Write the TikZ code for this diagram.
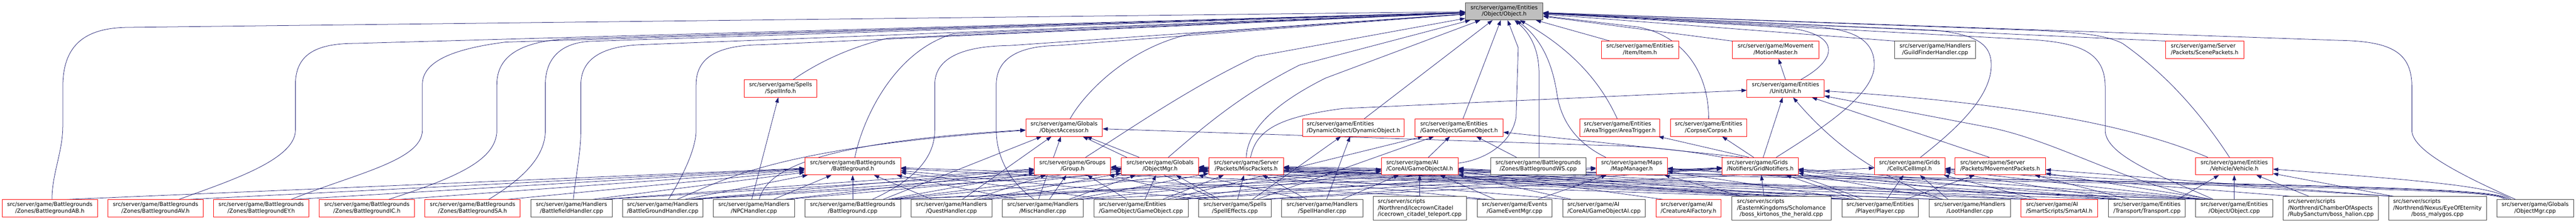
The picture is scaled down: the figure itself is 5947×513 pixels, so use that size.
\documentclass[tikz,border=0pt]{standalone}
\usepackage{fontspec}
\newfontfamily\dvs{DejaVu Sans}
\usetikzlibrary{arrows.meta,calc}
\pgfdeclarelayer{bg}
\pgfsetlayers{bg,main}
\definecolor{edgec}{RGB}{25,25,112}
\definecolor{hred}{RGB}{255,0,0}
\definecolor{cgray}{RGB}{64,64,64}
\definecolor{rootfill}{RGB}{191,191,191}
\newcommand\two[2]{\begin{tabular}{@{}c@{}}\multicolumn{1}{@{}l@{}}{#1}\\#2\end{tabular}}
\newcommand\three[3]{\begin{tabular}{@{}c@{}}\multicolumn{1}{@{}l@{}}{#1}\\\multicolumn{1}{@{}l@{}}{#2}\\#3\end{tabular}}
\newcommand\ed[3]{\draw[dep] ([xshift=#2]#1.north) -- (#3);}
\newcommand\edc[5]{\draw[dep] ([xshift=#2]#1.north) .. controls #3 and #4 .. (#5);}
\tikzset{
 nbox/.style={rectangle, inner sep=0pt, minimum height=40pt, fill=white, line width=1pt, font=\dvs\fontsize{12.7}{15}\selectfont},
 hdrbox/.style={nbox, draw=hred},
 cppbox/.style={nbox, draw=cgray},
 rootbox/.style={nbox, draw=cgray, fill=rootfill},
 tall/.style={minimum height=54pt},
 dep/.style={draw=edgec, line width=0.9pt, -{Triangle[length=12pt,width=8.5pt]}},
}
\begin{document}
\begin{tikzpicture}[x=1pt,y=-1pt]
\useasboundingbox (0,0) rectangle (5947,513);
% ---------- row 0
\node[rootbox, minimum width=179pt] (objh) at (3472.5,26) {\two{src/server/game/Entities}{/Object/Object.h}};
% ---------- row 1
\node[hdrbox, minimum width=178pt] (itemh) at (3786,115) {\two{src/server/game/Entities}{/Item/Item.h}};
\node[hdrbox, minimum width=200pt] (motion) at (4099,115) {\two{src/server/game/Movement}{/MotionMaster.h}};
\node[cppbox, minimum width=187pt] (guild) at (4467.5,115) {\two{src/server/game/Handlers}{/GuildFinderHandler.cpp}};
\node[hdrbox, minimum width=181pt] (scene) at (5089.5,115) {\two{src/server/game/Server}{/Packets/ScenePackets.h}};
% ---------- row 2
\node[hdrbox, minimum width=168pt] (spinfo) at (1802,204) {\two{src/server/game/Spells}{/SpellInfo.h}};
\node[hdrbox, minimum width=178pt] (unith) at (4122,204) {\two{src/server/game/Entities}{/Unit/Unit.h}};
% ---------- row 3
\node[hdrbox, minimum width=177pt] (objacc) at (2456.5,294) {\two{src/server/game/Globals}{/ObjectAccessor.h}};
\node[hdrbox, minimum width=235pt] (dyno) at (3124.5,294) {\two{src/server/game/Entities}{/DynamicObject/DynamicObject.h}};
\node[hdrbox, minimum width=203pt] (goh) at (3368.5,294) {\two{src/server/game/Entities}{/GameObject/GameObject.h}};
\node[hdrbox, minimum width=185pt] (areat) at (3739.5,294) {\two{src/server/game/Entities}{/AreaTrigger/AreaTrigger.h}};
\node[hdrbox, minimum width=177pt] (corpse) at (3944.5,294) {\two{src/server/game/Entities}{/Corpse/Corpse.h}};
% ---------- row 4
\node[hdrbox, minimum width=221pt] (bgh) at (1968.5,383) {\two{src/server/game/Battlegrounds}{/Battleground.h}};
\node[hdrbox, minimum width=176pt] (group) at (2476,383) {\two{src/server/game/Groups}{/Group.h}};
\node[hdrbox, minimum width=178pt] (omgrh) at (2678,383) {\two{src/server/game/Globals}{/ObjectMgr.h}};
\node[hdrbox, minimum width=172pt] (miscp) at (2877,383) {\two{src/server/game/Server}{/Packets/MiscPackets.h}};
\node[hdrbox, minimum width=177pt] (goai) at (3277.5,383) {\two{src/server/game/AI}{/CoreAI/GameObjectAI.h}};
\node[cppbox, minimum width=220pt] (bgws) at (3551,383) {\two{src/server/game/Battlegrounds}{/Zones/BattlegroundWS.cpp}};
\node[hdrbox, minimum width=164pt] (mapmgr) at (3767,383) {\two{src/server/game/Maps}{/MapManager.h}};
\node[hdrbox, minimum width=175pt] (gridn) at (4063.5,383) {\two{src/server/game/Grids}{/Notifiers/GridNotifiers.h}};
\node[hdrbox, minimum width=163pt] (cell) at (4408.5,383) {\two{src/server/game/Grids}{/Cells/CellImpl.h}};
\node[hdrbox, minimum width=209pt] (movep) at (4617.5,383) {\two{src/server/game/Server}{/Packets/MovementPackets.h}};
\node[hdrbox, minimum width=178pt] (vehic) at (5158,383) {\two{src/server/game/Entities}{/Vehicle/Vehicle.h}};
% ---------- row 5
\node[hdrbox, minimum width=220pt] (ab) at (115,480) {\two{src/server/game/Battlegrounds}{/Zones/BattlegroundAB.h}};
\node[hdrbox, minimum width=220pt] (av) at (359,480) {\two{src/server/game/Battlegrounds}{/Zones/BattlegroundAV.h}};
\node[hdrbox, minimum width=220pt] (ey) at (603,480) {\two{src/server/game/Battlegrounds}{/Zones/BattlegroundEY.h}};
\node[hdrbox, minimum width=220pt] (ic) at (847,480) {\two{src/server/game/Battlegrounds}{/Zones/BattlegroundIC.h}};
\node[hdrbox, minimum width=220pt] (sa) at (1091,480) {\two{src/server/game/Battlegrounds}{/Zones/BattlegroundSA.h}};
\node[cppbox, minimum width=187pt] (bfh) at (1319.5,480) {\two{src/server/game/Handlers}{/BattlefieldHandler.cpp}};
\node[cppbox, minimum width=186pt] (bgha) at (1530,480) {\two{src/server/game/Handlers}{/BattleGroundHandler.cpp}};
\node[cppbox, minimum width=187pt] (npc) at (1740.5,480) {\two{src/server/game/Handlers}{/NPCHandler.cpp}};
\node[cppbox, minimum width=221pt] (bgcpp) at (1968.5,480) {\two{src/server/game/Battlegrounds}{/Battleground.cpp}};
\node[cppbox, minimum width=187pt] (quest) at (2196.5,480) {\two{src/server/game/Handlers}{/QuestHandler.cpp}};
\node[cppbox, minimum width=187pt] (misch) at (2407.5,480) {\two{src/server/game/Handlers}{/MiscHandler.cpp}};
\node[cppbox, minimum width=218pt] (gocpp) at (2634,480) {\two{src/server/game/Entities}{/GameObject/GameObject.cpp}};
\node[cppbox, minimum width=168pt] (speff) at (2851,480) {\two{src/server/game/Spells}{/SpellEffects.cpp}};
\node[cppbox, minimum width=187pt] (spellh) at (3052.5,480) {\two{src/server/game/Handlers}{/SpellHandler.cpp}};
\node[cppbox, tall, minimum width=215pt] (icc) at (3277.5,480) {\three{src/server/scripts}{/Northrend/IcecrownCitadel}{/icecrown\_citadel\_teleport.cpp}};
\node[cppbox, minimum width=173pt] (gevent) at (3496.5,480) {\two{src/server/game/Events}{/GameEventMgr.cpp}};
\node[cppbox, minimum width=190pt] (goaicpp) at (3703,480) {\two{src/server/game/AI}{/CoreAI/GameObjectAI.cpp}};
\node[hdrbox, minimum width=150pt] (caif) at (3898,480) {\two{src/server/game/AI}{/CreatureAIFactory.h}};
\node[cppbox, tall, minimum width=229pt] (kirt) at (4112.5,480) {\three{src/server/scripts}{/EasternKingdoms/Scholomance}{/boss\_kirtonos\_the\_herald.cpp}};
\node[cppbox, minimum width=177pt] (player) at (4340.5,480) {\two{src/server/game/Entities}{/Player/Player.cpp}};
\node[cppbox, minimum width=187pt] (loot) at (4547.5,480) {\two{src/server/game/Handlers}{/LootHandler.cpp}};
\node[hdrbox, minimum width=178pt] (smart) at (4754,480) {\two{src/server/game/AI}{/SmartScripts/SmartAI.h}};
\node[cppbox, minimum width=177pt] (transp) at (4956.5,480) {\two{src/server/game/Entities}{/Transport/Transport.cpp}};
\node[cppbox, minimum width=178pt] (objcpp) at (5158,480) {\two{src/server/game/Entities}{/Object/Object.cpp}};
\node[cppbox, tall, minimum width=220pt] (halion) at (5381,480) {\three{src/server/scripts}{/Northrend/ChamberOfAspects}{/RubySanctum/boss\_halion.cpp}};
\node[cppbox, tall, minimum width=226pt] (maly) at (5627,480) {\three{src/server/scripts}{/Northrend/Nexus/EyeOfEternity}{/boss\_malygos.cpp}};
\node[cppbox, minimum width=177pt] (omgrcpp) at (5852.5,480) {\two{src/server/game/Globals}{/ObjectMgr.cpp}};

\begin{pgfonlayer}{bg}
\fill[white] (0,0) rectangle (5947,513);
% ---------- long edges to Object.h (left)
\draw[dep] ([xshift=5pt]ab.north) .. controls (120,400) and (145,350) .. (145,290) -- (145,200) .. controls (145,100) and (200,63) .. (300,63) -- (objh);
\draw[dep] ([xshift=54pt]av.north) .. controls (520,420) and (682,370) .. (682,300) -- (682,195) .. controls (682,125) and (730,100) .. (820,100) -- (objh);
\draw[dep] ([xshift=69pt]ey.north) .. controls (820,400) and (975,370) .. (975,300) -- (975,195) .. controls (975,140) and (1050,112) .. (1167,97) -- (objh);
\draw[dep] ([xshift=50pt]ic.north) .. controls (1050,410) and (1147,370) .. (1147,300) -- (1147,195) .. controls (1147,130) and (1200,98) .. (1300,90) -- (objh);
\draw[dep] ([xshift=37pt]sa.north) .. controls (1210,410) and (1259,360) .. (1259,300) -- (1259,195) .. controls (1259,130) and (1300,97) .. (1367,95) -- (objh);
\draw[dep] ([xshift=4pt]bfh.north) .. controls (1330,400) and (1341,350) .. (1341,300) -- (1341,195) .. controls (1341,130) and (1400,106) .. (1480,103) -- (objh);
\draw[dep] ([xshift=13pt]bgha.north) .. controls (1580,400) and (1607,340) .. (1607,300) -- (1607,195) .. controls (1607,130) and (1660,104) .. (1760,103) -- (objh);
\draw[dep] ([xshift=45pt]bgcpp.north) .. controls (2100,420) and (2158,370) .. (2158,300) -- (2158,195) .. controls (2158,130) and (2230,106) .. (2330,105) -- (objh);
\draw[dep] ([xshift=-20pt]misch.north) .. controls (2330,420) and (2300,360) .. (2300,300) -- (2300,195) .. controls (2300,130) and (2360,106) .. (2440,105) -- (objh);
\draw[dep] ([xshift=5pt]bgh.north) .. controls (1990,280) and (2060,120) .. (2200,78) -- (objh);
\draw[dep] ([xshift=29pt]spinfo.north) .. controls (1880,150) and (1950,112) .. (2050,88) -- (objh);
\draw[dep] ([xshift=14pt]objacc.north) .. controls (2500,220) and (2600,110) .. (2750,78) -- (objh);
\draw[dep] ([xshift=30pt]group.north) .. controls (2620,290) and (2750,200) .. (2900,130) -- (objh);
\draw[dep] ([xshift=19pt]omgrh.north) .. controls (2770,300) and (2860,220) .. (3000,150) -- (objh);
\draw[dep] (miscp.north) .. controls (2880,300) and (2940,240) .. (3060,180) -- (objh);
% ---------- edges to Object.h (below / right)
\draw[dep] ([xshift=25pt]dyno.north) -- (objh);
\draw[dep] ([xshift=9pt]goh.north) -- (objh);
\draw[dep] ([yshift=7pt]goai.east) .. controls (3430,368) and (3490,330) .. (3500,270) -- (3505,110) -- (objh);
\draw[dep] ([xshift=2pt]bgws.north) -- (3553,170) .. controls (3553,110) and (3530,75) .. (objh);
\draw[dep] ([xshift=-60pt]mapmgr.north) .. controls (3640,330) and (3605,280) .. (3595,220) .. controls (3585,150) and (3560,90) .. (objh);
\draw[dep] ([xshift=-6pt]areat.north) .. controls (3700,200) and (3640,120) .. (objh);
\draw[dep] ([xshift=-69pt]itemh.north) -- (objh);
\draw[dep] (corpse.north) .. controls (3945,160) and (3880,80) .. (3780,62) -- (objh);
\draw[dep] (motion.north west) -- (objh);
\draw[dep] (guild.north west) -- (objh);
\draw[dep] (scene.north west) -- (objh);
\draw[dep] ([xshift=35pt]unith.north) .. controls (4255,130) and (4245,70) .. (4100,62) -- (objh);
\draw[dep] ([xshift=37pt]gridn.north) .. controls (4200,300) and (4327,220) .. (4327,150) .. controls (4327,92) and (4280,70) .. (4200,62) -- (objh);
\draw[dep] ([xshift=25pt]cell.north) .. controls (4500,310) and (4597,230) .. (4597,150) .. controls (4597,100) and (4560,80) .. (4470,70) -- (objh);
\draw[dep] ([xshift=-11pt]vehic.north) .. controls (5080,260) and (5000,170) .. (4900,100) .. controls (4860,80) and (4800,75) .. (4700,70) -- (objh);
\draw[dep] ([xshift=-48pt]objcpp.north) .. controls (5000,410) and (4860,360) .. (4860,300) -- (4860,200) .. controls (4860,120) and (4800,100) .. (4700,92) -- (objh);
\draw[dep] ([xshift=-45pt]omgrcpp.north) .. controls (5650,390) and (5568,340) .. (5568,300) -- (5568,200) .. controls (5568,120) and (5520,95) .. (5400,93) -- (objh);
% ---------- middle-level edges
\ed{unith}{0pt}{motion}
\ed{omgrh}{-48pt}{objacc}
\ed{goai}{20pt}{goh}
\ed{gridn}{7pt}{unith}
\ed{gridn}{-26pt}{areat}
\ed{gridn}{-15pt}{corpse}
\ed{gridn}{-40pt}{goh}
\ed{bgws}{-50pt}{goh}
\ed{movep}{-25pt}{unith}
\draw[dep] ([xshift=10pt]miscp.north) .. controls (2900,300) and (2950,270) .. (3100,250) -- (unith);
\draw[dep] ([xshift=-61pt]vehic.north) .. controls (4950,300) and (4700,240) .. (unith);
\draw[dep] ([xshift=-64pt]loot.north) .. controls (4330,405) and (4230,330) .. (unith);
\draw[dep] ([xshift=-55pt]objcpp.north) .. controls (4900,420) and (4760,330) .. (4600,295) -- (unith);
\draw[dep] ([xshift=-40pt]player.north) .. controls (4200,420) and (4000,340) .. (3700,335) -- (objacc);
% ---------- bottom row
\ed{ab}{40pt}{bgh}
\ed{av}{76pt}{bgh}
\ed{ey}{75pt}{bgh}
\ed{ic}{75pt}{bgh}
\ed{sa}{80pt}{bgh}
\ed{bfh}{48pt}{bgh}
\ed{bfh}{68pt}{group}
\ed{bfh}{75pt}{omgrh}
\ed{bgha}{50pt}{bgh}
\edc{bgha}{33pt}{(1680,410)}{(1800,340)}{objacc}
\ed{bgha}{60pt}{group}
\ed{bgha}{65pt}{omgrh}
\ed{bgha}{70pt}{miscp}
\ed{npc}{-5pt}{spinfo}
\edc{npc}{12pt}{(1770,400)}{(1850,330)}{objacc}
\ed{npc}{45pt}{bgh}
\ed{npc}{70pt}{group}
\ed{npc}{75pt}{omgrh}
\ed{bgcpp}{0pt}{bgh}
\ed{bgcpp}{70pt}{objacc}
\ed{bgcpp}{80pt}{group}
\ed{bgcpp}{85pt}{omgrh}
\ed{bgcpp}{90pt}{miscp}
\ed{bgcpp}{95pt}{mapmgr}
\ed{bgcpp}{95pt}{gridn}
\ed{quest}{-45pt}{bgh}
\ed{quest}{25pt}{objacc}
\ed{quest}{50pt}{group}
\ed{quest}{60pt}{omgrh}
\ed{quest}{70pt}{miscp}
\ed{quest}{80pt}{goai}
\ed{misch}{-10pt}{objacc}
\ed{misch}{15pt}{group}
\ed{misch}{60pt}{omgrh}
\ed{misch}{-60pt}{bgh}
\ed{misch}{70pt}{miscp}
\ed{misch}{80pt}{goai}
\ed{misch}{85pt}{gridn}
\ed{gocpp}{-32pt}{group}
\ed{gocpp}{9pt}{omgrh}
\ed{gocpp}{50pt}{miscp}
\ed{gocpp}{60pt}{goh}
\ed{gocpp}{75pt}{goai}
\ed{gocpp}{-80pt}{bgh}
\ed{gocpp}{85pt}{mapmgr}
\ed{gocpp}{90pt}{gridn}
\ed{speff}{-36pt}{omgrh}
\ed{speff}{6pt}{miscp}
\ed{speff}{-60pt}{group}
\ed{speff}{-45pt}{objacc}
\ed{speff}{40pt}{dyno}
\ed{speff}{50pt}{goh}
\ed{speff}{60pt}{gridn}
\ed{speff}{65pt}{cell}
\ed{speff}{-70pt}{bgh}
\ed{spellh}{45pt}{goai}
\ed{spellh}{-45pt}{omgrh}
\ed{spellh}{10pt}{dyno}
\ed{spellh}{-35pt}{miscp}
\ed{icc}{0pt}{goai}
\ed{gevent}{-45pt}{goai}
\ed{gevent}{53pt}{mapmgr}
\ed{gevent}{-60pt}{omgrh}
\ed{gevent}{-70pt}{bgh}
\ed{goaicpp}{-75pt}{goai}
\ed{goaicpp}{-85pt}{omgrh}
\ed{caif}{-58pt}{goai}
\ed{kirt}{-80pt}{goai}
\ed{kirt}{-40pt}{gridn}
\ed{kirt}{-90pt}{mapmgr}
\ed{player}{15pt}{cell}
\ed{player}{57pt}{movep}
\ed{player}{-55pt}{gridn}
\ed{player}{-65pt}{group}
\ed{player}{-65pt}{omgrh}
\ed{player}{-75pt}{bgh}
\ed{player}{-70pt}{miscp}
\ed{player}{-60pt}{mapmgr}
\ed{player}{-70pt}{goai}
\ed{loot}{-70pt}{group}
\ed{loot}{-75pt}{omgrh}
\ed{loot}{-60pt}{gridn}
\ed{loot}{-50pt}{cell}
\ed{smart}{-70pt}{goai}
\ed{smart}{-60pt}{gridn}
\ed{smart}{-50pt}{cell}
\ed{smart}{-75pt}{omgrh}
\ed{transp}{70pt}{vehic}
\ed{transp}{-60pt}{cell}
\ed{transp}{-70pt}{mapmgr}
\ed{transp}{-40pt}{movep}
\ed{transp}{-65pt}{gridn}
\ed{transp}{-75pt}{omgrh}
\ed{objcpp}{0pt}{vehic}
\ed{objcpp}{-60pt}{gridn}
\ed{objcpp}{-65pt}{cell}
\ed{objcpp}{-50pt}{movep}
\ed{objcpp}{-70pt}{miscp}
\ed{objcpp}{-75pt}{omgrh}
\ed{objcpp}{-68pt}{mapmgr}
\ed{halion}{-50pt}{vehic}
\ed{halion}{-90pt}{cell}
\ed{maly}{-100pt}{vehic}
\ed{maly}{-105pt}{movep}
\ed{maly}{-100pt}{cell}
\edc{omgrcpp}{-55pt}{(5760,432)}{(5650,420)}{vehic}
\edc{omgrcpp}{-60pt}{(5760,434)}{(5600,425)}{omgrh}
\edc{omgrcpp}{-65pt}{(5760,436)}{(5600,428)}{miscp}
\edc{omgrcpp}{-70pt}{(5760,438)}{(5600,430)}{group}
\end{pgfonlayer}
\end{tikzpicture}
\end{document}
